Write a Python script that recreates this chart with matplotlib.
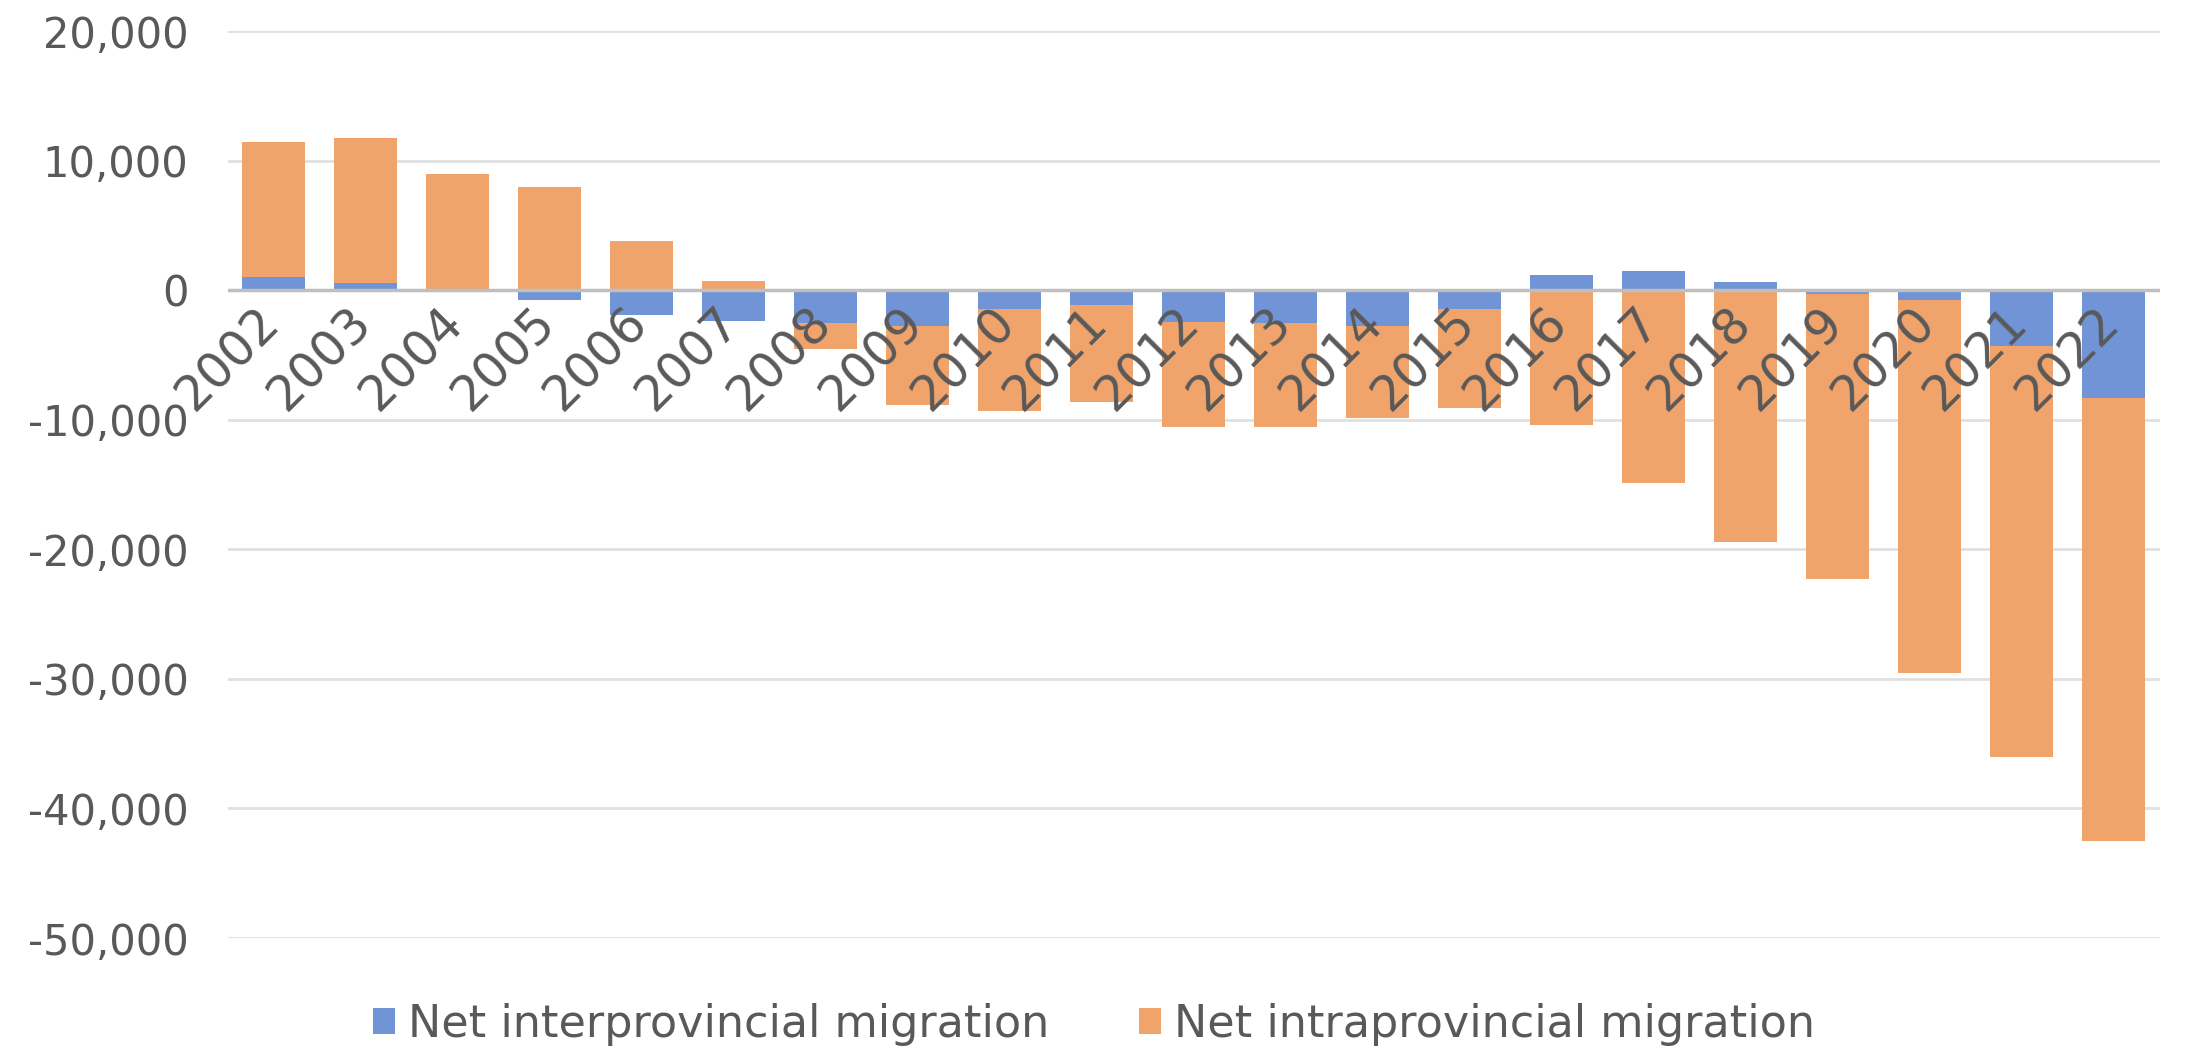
import numpy as np
import matplotlib
matplotlib.use("Agg")
import matplotlib.pyplot as plt
from matplotlib.ticker import FuncFormatter

years = [str(y) for y in range(2002, 2023)]
interprovincial = [980, 540, 0, -750, -1910, -2350, -2500, -2760, -1470, -1130,
                   -2420, -2570, -2730, -1420, 1180, 1470, 620, -300, -780, -4300, -8350]
intraprovincial = [10460, 11210, 8970, 7960, 3760, 720, -2040, -6110, -7830, -7520,
                   -8180, -8030, -7100, -7690, -10400, -14920, -19430, -22030, -28780, -31760, -34140]

blue = "#7094D6"
orange = "#F0A46C"
txt = "#595959"

plt.rcParams['font.family'] = ['DejaVu Sans']

fig = plt.figure(figsize=(21.88, 10.51), dpi=100)
ax = fig.add_axes([0.104, 0.1075, 0.883, 0.863])

x = np.arange(len(years))
inter = np.array(interprovincial, dtype=float)
intra = np.array(intraprovincial, dtype=float)
bottom_intra = np.where(np.sign(intra) == np.sign(inter), inter, 0.0)

w = 0.68
ax.bar(x, inter, width=w, color=blue, label="Net interprovincial migration", zorder=3)
ax.bar(x, intra, width=w, bottom=bottom_intra, color=orange,
       label="Net intraprovincial migration", zorder=3)

ax.set_xlim(-0.5, len(years) - 0.5)
ax.set_ylim(-50000, 20000)
ax.set_yticks(np.arange(-50000, 20001, 10000))
ax.yaxis.set_major_formatter(FuncFormatter(lambda v, p: f"{int(v):,}"))
ax.grid(axis='y', color='#E0E0E0', linewidth=2, zorder=0)
ax.axhline(0, color='#BFBFBF', linewidth=2.5, zorder=4)
for s in ax.spines.values():
    s.set_visible(False)
ax.tick_params(axis='y', length=0, labelsize=30, labelcolor=txt, pad=28)
ax.set_xticks([])

for xi, lab in zip(x, years):
    ax.text(xi - 0.2, -600, lab, rotation=45, ha='right', va='top',
            rotation_mode='anchor', fontsize=35, color=txt, zorder=5)

leg = fig.legend(loc='lower center', bbox_to_anchor=(0.5, -0.033), ncol=2, frameon=False,
                 fontsize=32, labelcolor=txt, handlelength=0.5, handleheight=0.5,
                 handletextpad=0.3, columnspacing=2.0)

fig.savefig("out.png", dpi=100, facecolor='white')
